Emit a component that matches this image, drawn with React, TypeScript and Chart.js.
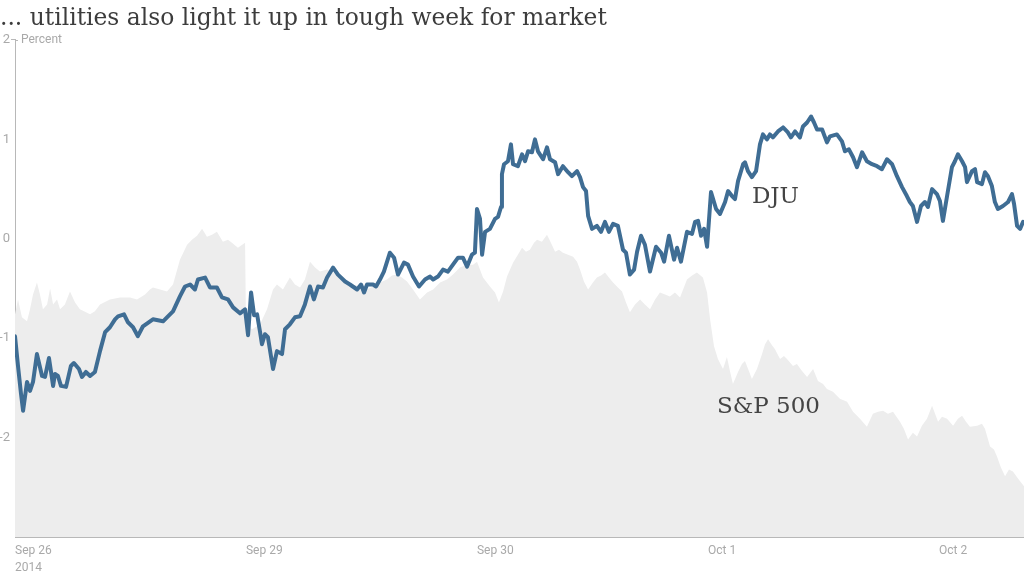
import React, { useEffect, useRef } from 'react';
import { Chart, registerables } from 'chart.js';

Chart.register(...registerables);

const chartTitle = '... utilities also light it up in tough week for market';
const axisUnit = 'Percent';

// x = trading days since the Sep 26 open
const dayTicks = [0, 1, 2, 3, 4];
const dayLabels: (string | string[])[] = [['Sep 26', '2014'], 'Sep 29', 'Sep 30', 'Oct 1', 'Oct 2'];
const xMax = 4.368;
const yTicks = [2, 1, 0, -1, -2];

const djuTime = [
  0, 0.013, 0.026, 0.035, 0.052, 0.065, 0.078, 0.095, 0.117, 0.13,
  0.147, 0.165, 0.173, 0.186, 0.199, 0.221, 0.242, 0.255, 0.277, 0.29,
  0.307, 0.325, 0.346, 0.368, 0.39, 0.411, 0.433, 0.446, 0.472, 0.489,
  0.511, 0.532, 0.554, 0.597, 0.641, 0.658, 0.684, 0.714, 0.736, 0.758,
  0.779, 0.792, 0.823, 0.844, 0.874, 0.896, 0.922, 0.944, 0.974, 0.996,
  1.009, 1.022, 1.035, 1.048, 1.061, 1.069, 1.082, 1.095, 1.117, 1.134,
  1.156, 1.169, 1.19, 1.212, 1.234, 1.255, 1.277, 1.294, 1.312, 1.333,
  1.351, 1.377, 1.398, 1.429, 1.45, 1.481, 1.498, 1.511, 1.524, 1.55,
  1.563, 1.58, 1.597, 1.623, 1.641, 1.658, 1.684, 1.701, 1.723, 1.749,
  1.775, 1.797, 1.81, 1.831, 1.853, 1.874, 1.896, 1.918, 1.939, 1.957,
  1.978, 1.991, 2.0, 2.013, 2.022, 2.035, 2.056, 2.078, 2.091, 2.104,
  2.108, 2.117, 2.134, 2.147, 2.156, 2.177, 2.195, 2.208, 2.221, 2.238,
  2.251, 2.264, 2.286, 2.303, 2.316, 2.338, 2.351, 2.372, 2.394, 2.411,
  2.433, 2.446, 2.459, 2.472, 2.481, 2.498, 2.519, 2.537, 2.554, 2.571,
  2.589, 2.61, 2.632, 2.645, 2.662, 2.68, 2.693, 2.71, 2.727, 2.749,
  2.775, 2.797, 2.81, 2.831, 2.853, 2.866, 2.883, 2.909, 2.931, 2.944,
  2.957, 2.97, 2.983, 2.996, 3.013, 3.026, 3.035, 3.052, 3.074, 3.087,
  3.104, 3.117, 3.13, 3.152, 3.16, 3.173, 3.19, 3.208, 3.225, 3.238,
  3.255, 3.268, 3.281, 3.303, 3.325, 3.346, 3.359, 3.377, 3.398, 3.411,
  3.429, 3.446, 3.459, 3.472, 3.494, 3.515, 3.528, 3.558, 3.58, 3.593,
  3.61, 3.628, 3.645, 3.667, 3.688, 3.71, 3.732, 3.753, 3.775, 3.797,
  3.818, 3.84, 3.861, 3.874, 3.887, 3.905, 3.922, 3.939, 3.952, 3.97,
  3.991, 4.004, 4.017, 4.035, 4.056, 4.069, 4.082, 4.1, 4.113, 4.121,
  4.143, 4.156, 4.165, 4.186, 4.199, 4.212, 4.229, 4.242, 4.255, 4.277,
  4.299, 4.316, 4.325, 4.338, 4.351, 4.364,
];

const djuValue = [
  -0.98, -1.28, -1.56, -1.73, -1.44, -1.53, -1.44, -1.16, -1.38, -1.39,
  -1.2, -1.48, -1.36, -1.38, -1.48, -1.49, -1.28, -1.25, -1.31, -1.39,
  -1.34, -1.38, -1.34, -1.13, -0.94, -0.89, -0.81, -0.78, -0.76, -0.84,
  -0.89, -0.98, -0.88, -0.81, -0.83, -0.79, -0.73, -0.58, -0.48, -0.46,
  -0.51, -0.41, -0.39, -0.49, -0.49, -0.59, -0.61, -0.69, -0.75, -0.71,
  -0.97, -0.54, -0.77, -0.76, -0.94, -1.06, -0.96, -0.99, -1.31, -1.13,
  -1.16, -0.91, -0.86, -0.79, -0.78, -0.66, -0.48, -0.61, -0.48, -0.49,
  -0.39, -0.29, -0.36, -0.43, -0.46, -0.51, -0.46, -0.54, -0.46, -0.46,
  -0.48, -0.41, -0.33, -0.14, -0.19, -0.36, -0.24, -0.26, -0.38, -0.48,
  -0.41, -0.38, -0.41, -0.38, -0.31, -0.33, -0.26, -0.19, -0.19, -0.28,
  -0.16, -0.14, 0.3, 0.2, -0.16, 0.07, 0.1, 0.2, 0.22, 0.32,
  0.65, 0.75, 0.78, 0.95, 0.75, 0.73, 0.85, 0.78, 0.88, 0.87,
  1.0, 0.88, 0.8, 0.92, 0.8, 0.77, 0.65, 0.73, 0.67, 0.63,
  0.68, 0.62, 0.52, 0.48, 0.23, 0.1, 0.13, 0.07, 0.17, 0.07,
  0.15, 0.13, -0.11, -0.14, -0.36, -0.31, -0.13, 0.03, -0.06, -0.33,
  -0.08, -0.14, -0.23, 0.03, -0.21, -0.09, -0.23, 0.07, 0.05, 0.17,
  0.18, 0.03, 0.1, -0.08, 0.47, 0.37, 0.3, 0.25, 0.37, 0.48,
  0.43, 0.4, 0.58, 0.75, 0.77, 0.68, 0.62, 0.68, 0.95, 1.05,
  1.0, 1.05, 1.02, 1.08, 1.12, 1.07, 1.02, 1.08, 1.02, 1.13,
  1.17, 1.23, 1.17, 1.1, 1.1, 0.97, 1.03, 1.05, 0.98, 0.88,
  0.9, 0.82, 0.72, 0.87, 0.78, 0.75, 0.73, 0.7, 0.8, 0.75,
  0.63, 0.52, 0.43, 0.37, 0.33, 0.17, 0.33, 0.37, 0.32, 0.5,
  0.45, 0.38, 0.18, 0.43, 0.72, 0.78, 0.85, 0.78, 0.72, 0.57,
  0.68, 0.7, 0.57, 0.55, 0.67, 0.63, 0.53, 0.37, 0.3, 0.33,
  0.37, 0.45, 0.35, 0.13, 0.1, 0.17,
];

const spxTime = [
  0, 0.013, 0.03, 0.052, 0.065, 0.078, 0.095, 0.108, 0.121, 0.139,
  0.152, 0.165, 0.182, 0.195, 0.216, 0.238, 0.26, 0.281, 0.325, 0.346,
  0.368, 0.411, 0.455, 0.498, 0.528, 0.563, 0.584, 0.597, 0.628, 0.658,
  0.684, 0.714, 0.745, 0.766, 0.788, 0.81, 0.831, 0.853, 0.874, 0.9,
  0.922, 0.939, 0.965, 0.996, 1.0, 1.026, 1.061, 1.091, 1.117, 1.134,
  1.16, 1.19, 1.212, 1.234, 1.255, 1.277, 1.299, 1.32, 1.351, 1.377,
  1.407, 1.437, 1.463, 1.494, 1.524, 1.55, 1.58, 1.61, 1.632, 1.654,
  1.675, 1.697, 1.723, 1.753, 1.784, 1.81, 1.84, 1.87, 1.896, 1.926,
  1.957, 1.983, 2.0, 2.026, 2.056, 2.078, 2.095, 2.113, 2.13, 2.156,
  2.177, 2.195, 2.212, 2.229, 2.247, 2.26, 2.281, 2.303, 2.32, 2.338,
  2.355, 2.372, 2.394, 2.416, 2.433, 2.446, 2.463, 2.481, 2.502, 2.519,
  2.537, 2.554, 2.571, 2.589, 2.61, 2.628, 2.645, 2.662, 2.684, 2.706,
  2.727, 2.749, 2.771, 2.792, 2.814, 2.835, 2.857, 2.879, 2.909, 2.931,
  2.952, 2.978, 2.996, 3.009, 3.026, 3.043, 3.065, 3.082, 3.095, 3.108,
  3.13, 3.147, 3.16, 3.177, 3.19, 3.212, 3.234, 3.247, 3.26, 3.277,
  3.29, 3.312, 3.329, 3.342, 3.368, 3.385, 3.407, 3.429, 3.455, 3.476,
  3.498, 3.515, 3.541, 3.571, 3.602, 3.628, 3.658, 3.688, 3.714, 3.736,
  3.758, 3.779, 3.801, 3.831, 3.848, 3.866, 3.887, 3.905, 3.926, 3.948,
  3.97, 3.983, 3.996, 4.013, 4.035, 4.061, 4.082, 4.1, 4.117, 4.134,
  4.165, 4.186, 4.199, 4.221, 4.238, 4.251, 4.268, 4.286, 4.303, 4.32,
  4.338, 4.351, 4.368,
];

const spxValue = [
  -0.76, -0.61, -0.79, -0.83, -0.71, -0.56, -0.44, -0.56, -0.71, -0.66,
  -0.5, -0.66, -0.61, -0.71, -0.66, -0.53, -0.64, -0.71, -0.76, -0.73,
  -0.66, -0.61, -0.59, -0.59, -0.61, -0.56, -0.51, -0.49, -0.51, -0.53,
  -0.46, -0.21, -0.06, -0.01, 0.03, 0.1, 0.02, 0.04, 0.07, -0.03,
  -0.01, -0.04, -0.09, -0.04, -0.86, -0.91, -0.86, -0.71, -0.51, -0.46,
  -0.51, -0.39, -0.46, -0.49, -0.41, -0.23, -0.29, -0.33, -0.31, -0.34,
  -0.39, -0.43, -0.46, -0.48, -0.51, -0.48, -0.44, -0.41, -0.37, -0.36,
  -0.39, -0.43, -0.51, -0.61, -0.54, -0.51, -0.44, -0.41, -0.36, -0.29,
  -0.26, -0.26, -0.23, -0.39, -0.48, -0.54, -0.64, -0.53, -0.38, -0.24,
  -0.16, -0.09, -0.13, -0.11, -0.04, -0.01, -0.03, 0.04, -0.04, -0.13,
  -0.11, -0.14, -0.16, -0.18, -0.23, -0.31, -0.43, -0.51, -0.44, -0.39,
  -0.37, -0.34, -0.39, -0.44, -0.49, -0.53, -0.64, -0.74, -0.66, -0.61,
  -0.66, -0.71, -0.61, -0.54, -0.56, -0.58, -0.54, -0.59, -0.41, -0.37,
  -0.34, -0.39, -0.54, -0.81, -1.08, -1.21, -1.31, -1.19, -1.33, -1.46,
  -1.34, -1.26, -1.23, -1.33, -1.41, -1.31, -1.16, -1.06, -1.01, -1.07,
  -1.11, -1.21, -1.18, -1.21, -1.28, -1.26, -1.33, -1.39, -1.31, -1.43,
  -1.46, -1.51, -1.54, -1.61, -1.64, -1.74, -1.81, -1.89, -1.76, -1.74,
  -1.73, -1.76, -1.74, -1.84, -1.91, -2.02, -1.95, -1.99, -1.88, -1.81,
  -1.68, -1.76, -1.84, -1.79, -1.81, -1.88, -1.81, -1.78, -1.84, -1.89,
  -1.88, -1.86, -1.91, -2.09, -2.12, -2.19, -2.3, -2.39, -2.32, -2.34,
  -2.4, -2.44, -2.49,
];

const seriesNames = ['DJU', 'S&P 500'];
// where each series name sits, in data units (days, percent)
const nameAnchorT = [3.19, 3.039];
const nameAnchorV = [0.36, -1.75];

const GREY_TEXT = '#a9a9a9';
const AXIS_LINE = '#b8b8b8';
const NARROW = "'Liberation Sans Narrow', 'Roboto', sans-serif";
const SERIF = "'DejaVu Serif', serif";

const annotations = {
  id: 'annotations',
  afterDatasetsDraw(chart: any) {
    const { ctx, chartArea, scales } = chart;
    const x = scales.x;
    const y = scales.y;
    ctx.save();
    ctx.fillStyle = '#444444';
    ctx.font = `23px ${SERIF}`;
    ctx.textAlign = 'left';
    ctx.textBaseline = 'alphabetic';
    seriesNames.forEach((name, i) => {
      ctx.fillText(name, x.getPixelForValue(nameAnchorT[i]), y.getPixelForValue(nameAnchorV[i]));
    });
    const topY = y.getPixelForValue(yTicks[0]);
    ctx.strokeStyle = AXIS_LINE;
    ctx.lineWidth = 1;
    ctx.beginPath();
    ctx.moveTo(chartArea.left, Math.round(topY) + 0.5);
    ctx.lineTo(chartArea.left + 3, Math.round(topY) + 0.5);
    ctx.stroke();
    ctx.fillStyle = GREY_TEXT;
    ctx.font = `12px ${NARROW}`;
    ctx.textBaseline = 'middle';
    ctx.fillText(axisUnit, chartArea.left + 6, topY);
    ctx.restore();
  },
};

export default function App() {
  const canvasRef = useRef<HTMLCanvasElement | null>(null);

  useEffect(() => {
    const canvas = canvasRef.current;
    if (!canvas) return;
    const chart = new Chart(canvas, {
      type: 'line',
      data: {
        datasets: [
          {
            label: seriesNames[0],
            data: djuTime.map((t, i) => ({ x: t, y: djuValue[i] })),
            borderColor: '#3f6d94',
            borderWidth: 4,
            pointRadius: 0,
            fill: false,
            tension: 0,
            borderJoinStyle: 'round',
            borderCapStyle: 'round',
          },
          {
            label: seriesNames[1],
            data: spxTime.map((t, i) => ({ x: t, y: spxValue[i] })),
            borderColor: 'rgba(0,0,0,0)',
            borderWidth: 0,
            backgroundColor: '#ededed',
            pointRadius: 0,
            fill: 'start',
            tension: 0,
          },
        ],
      },
      options: {
        animation: false,
        responsive: false,
        maintainAspectRatio: false,
        layout: { padding: 0 },
        plugins: {
          legend: { display: false },
          tooltip: { enabled: false },
          title: {
            display: true,
            text: chartTitle,
            align: 'start',
            color: '#3c3c3c',
            font: { family: SERIF, size: 23.4, weight: 'normal', lineHeight: 1.2 },
            padding: { top: 5, bottom: 6.9 },
          },
        },
        scales: {
          x: {
            type: 'linear',
            min: 0,
            max: xMax,
            afterBuildTicks: (s: any) => {
              s.ticks = dayTicks.map((v) => ({ value: v }));
            },
            afterFit: (s: any) => {
              s.height = 39;
            },
            ticks: {
              align: 'start',
              autoSkip: false,
              maxRotation: 0,
              padding: 6,
              color: GREY_TEXT,
              font: { family: NARROW, size: 12, lineHeight: 1.4 },
              callback: (_v: any, i: number) => dayLabels[i],
            },
            grid: { display: false, drawTicks: false },
            border: { display: true, color: AXIS_LINE, width: 1 },
          },
          y: {
            type: 'linear',
            min: -3,
            max: 2,
            afterBuildTicks: (s: any) => {
              s.ticks = yTicks.map((v) => ({ value: v }));
            },
            afterFit: (s: any) => {
              s.width = 15;
            },
            ticks: {
              padding: 1,
              color: GREY_TEXT,
              font: { family: NARROW, size: 13 },
              callback: (v: any) => String(v),
            },
            grid: {
              display: true,
              drawOnChartArea: false,
              drawTicks: true,
              tickLength: 4,
              color: (ctx: any) => (ctx.tick && ctx.tick.value === yTicks[0] ? AXIS_LINE : 'rgba(0,0,0,0)'),
            },
            border: { display: true, color: AXIS_LINE, width: 1 },
          },
        },
      },
      plugins: [annotations],
    } as any);
    return () => chart.destroy();
  }, []);

  return (
    <div style={{ position: 'absolute', left: 0, top: 0, width: 1024, height: 576, background: '#fff' }}>
      <canvas ref={canvasRef} width={1024} height={576} style={{ display: 'block', width: 1024, height: 576 }} />
    </div>
  );
}
